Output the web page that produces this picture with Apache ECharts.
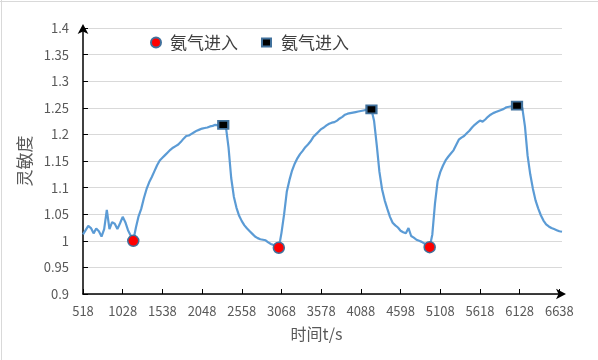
<!DOCTYPE html>
<html>
<head>
<meta charset="utf-8">
<script src="https://cdn.jsdelivr.net/npm/echarts@6/dist/echarts.min.js"></script>
<style>html,body{margin:0;padding:0;background:#fff}#c{width:598px;height:360px}</style>
</head>
<body>
<div id="c"></div>
<script>
// time axis: first sample, sampling step (s), number of samples
var tStart = 518, tStep = 34, nSamples = 182;
var times = [];
for (var i = 0; i < nSamples; i++) times.push(String(tStart + tStep * i));

// sensitivity values
var sensitivity = [
1.012,1.020,1.028,1.024,1.014,1.023,1.018,1.008,1.022,1.058,
1.022,1.035,1.032,1.022,1.033,1.045,1.035,1.020,1.010,1.000,
1.025,1.046,1.060,1.080,1.097,1.110,1.120,1.131,1.142,1.151,
1.156,1.161,1.166,1.171,1.175,1.178,1.181,1.186,1.192,1.197,
1.198,1.201,1.204,1.207,1.209,1.211,1.212,1.213,1.215,1.216,
1.218,1.217,1.218,1.218,1.214,1.175,1.118,1.083,1.062,1.047,
1.037,1.029,1.023,1.018,1.013,1.008,1.005,1.003,1.002,1.001,
0.997,0.994,0.992,0.989,0.987,1.015,1.050,1.092,1.114,1.132,
1.145,1.155,1.163,1.169,1.176,1.181,1.187,1.195,1.200,1.205,
1.210,1.213,1.217,1.220,1.222,1.223,1.226,1.230,1.233,1.237,
1.239,1.240,1.241,1.242,1.243,1.244,1.245,1.246,1.247,1.247,
1.225,1.180,1.130,1.097,1.076,1.060,1.045,1.034,1.029,1.025,
1.019,1.016,1.014,1.024,1.009,1.006,1.002,1.000,0.998,0.995,
0.992,0.988,1.012,1.070,1.112,1.129,1.141,1.151,1.158,1.164,
1.170,1.180,1.190,1.194,1.197,1.202,1.207,1.213,1.218,1.222,
1.226,1.224,1.228,1.233,1.237,1.240,1.242,1.244,1.246,1.248,
1.251,1.252,1.253,1.253,1.254,1.253,1.250,1.215,1.160,1.125,
1.098,1.076,1.061,1.048,1.038,1.031,1.027,1.024,1.022,1.020,
1.018,1.017
];

// marker points (ammonia in: troughs, peaks)
var inTimes = ['1164', '3034', '4972'];
var inValues = [1.000, 0.987, 0.988];
var peakTimes = ['2320', '4224', '6094'];
var peakValues = [1.218, 1.247, 1.254];

var yTicks = ['0.9','0.95','1','1.05','1.1','1.15','1.2','1.25','1.3','1.35','1.4'];

var legendName = '氨气进入';
var xTitle = '时间t/s';
var yTitle = '灵敏度';

var font = 'Noto Sans CJK SC';
var chart = echarts.init(document.getElementById('c'), null, {renderer: 'canvas'});

function pairs(xs, ys) { return xs.map(function (x, k) { return [x, ys[k]]; }); }

chart.setOption({
  animation: false,
  backgroundColor: '#ffffff',
  textStyle: {fontFamily: font},
  grid: {left: 83, right: 36, top: 28, bottom: 66, containLabel: false},
  legend: [{
    left: 150, top: 34, padding: 0, itemWidth: 10, itemHeight: 10,
    data: [{name: 'in', icon: 'circle'}],
    formatter: function () { return legendName; },
    textStyle: {fontSize: 17, color: '#404040', fontFamily: font, padding: [0, 0, 0, 4]}
  }, {
    left: 261, top: 34, padding: 0, itemWidth: 9, itemHeight: 8,
    data: [{name: 'peak', icon: 'rect'}],
    formatter: function () { return legendName; },
    textStyle: {fontSize: 17, color: '#404040', fontFamily: font, padding: [0, 0, 0, 5]}
  }],
  xAxis: {
    type: 'category', data: times, boundaryGap: false,
    axisLine: {lineStyle: {color: '#000', width: 1.5}, symbol: ['none', 'arrow'], symbolSize: [8, 10], symbolOffset: [0, 4]},
    axisTick: {inside: true, length: 5, interval: 14, lineStyle: {color: '#000'}},
    axisLabel: {interval: 14, margin: 11, fontSize: 13, color: '#595959', fontFamily: font},
    splitLine: {show: false},
    name: xTitle, nameLocation: 'middle', nameGap: 32,
    nameTextStyle: {fontSize: 16, color: '#595959', fontFamily: font, padding: [0, 12, 0, 0]}
  },
  yAxis: {
    type: 'value', min: 0.9, max: 1.4, interval: 0.05,
    axisLine: {show: true, lineStyle: {color: '#000', width: 1.5}, symbol: ['none', 'arrow'], symbolSize: [8, 10], symbolOffset: [0, 4]},
    axisTick: {show: true, inside: true, length: 5, lineStyle: {color: '#000'}},
    axisLabel: {margin: 14, fontSize: 13, color: '#595959', fontFamily: font,
      formatter: function (v) { return yTicks[Math.round((v - 0.9) / 0.05)]; }},
    splitLine: {show: true, lineStyle: {color: '#d9d9d9', width: 1}},
    name: yTitle, nameLocation: 'middle', nameGap: 44, nameRotate: 90,
    nameTextStyle: {fontSize: 17, color: '#595959', fontFamily: font}
  },
  graphic: [
    {type: 'line', shape: {x1: 1.5, y1: 0, x2: 1.5, y2: 360}, style: {stroke: '#d9d9d9', lineWidth: 1}, silent: true},
    {type: 'line', shape: {x1: 0, y1: 1.5, x2: 598, y2: 1.5}, style: {stroke: '#d9d9d9', lineWidth: 1}, silent: true}
  ],
  series: [{
    name: 'curve', type: 'line', data: sensitivity, showSymbol: false, symbol: 'none',
    lineStyle: {color: '#5b9bd5', width: 2.2}, z: 2
  }, {
    name: 'in', type: 'scatter', data: pairs(inTimes, inValues), symbol: 'circle', symbolSize: 11,
    itemStyle: {color: '#ff0000', borderColor: '#41719c', borderWidth: 1.5, opacity: 1}, z: 5
  }, {
    name: 'peak', type: 'scatter', data: pairs(peakTimes, peakValues), symbol: 'rect', symbolSize: [10, 8],
    itemStyle: {color: '#000000', borderColor: '#41719c', borderWidth: 2, opacity: 1}, z: 5
  }]
});
</script>
</body>
</html>
